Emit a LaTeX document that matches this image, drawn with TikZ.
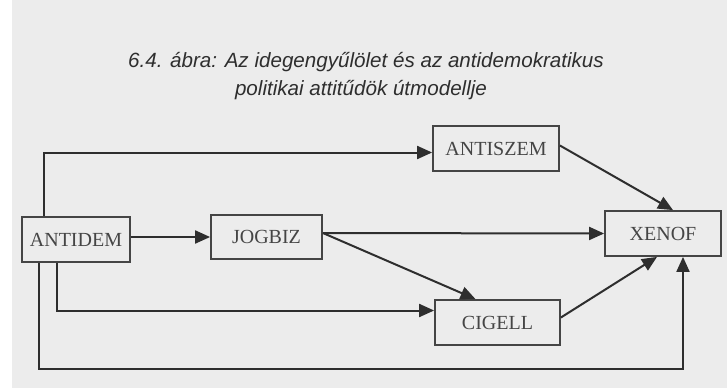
\documentclass[tikz,border=0pt]{standalone}
\usepackage{fontspec}
\setmainfont{Liberation Serif}
\newfontfamily\titlefont{Liberation Sans}
\usetikzlibrary{arrows.meta,calc}
\definecolor{ink}{HTML}{2E2E2E}
\definecolor{boxink}{HTML}{454545}
\definecolor{paper}{HTML}{ECECEC}
\tikzset{
  varbox/.style={draw=boxink, line width=1.8pt, fill=paper, inner sep=0pt, text=boxink,
    font=\fontsize{20}{20}\selectfont},
  conn/.style={draw=ink, line width=2pt, -{Triangle[length=15pt,width=13pt]}},
  ttl/.style={text=ink, anchor=base, font=\titlefont\itshape\fontsize{20.6}{20.6}\selectfont}
}
\begin{document}
\begin{tikzpicture}[x=1pt,y=-1pt]
\fill[paper] (0,0) rectangle (727,388);
\fill[white] (0,0) rectangle (12,388);
\useasboundingbox (0,0) rectangle (727,388);
\node[ttl] (t1) at (366,67) {6.4. ábra: Az idegengyűlölet és az antidemokratikus};
\node[ttl] (t2) at (361,95) {politikai attitűdök útmodellje};
\node[varbox, minimum width=108pt, minimum height=45pt] (antidem) at (76,239.5) {ANTIDEM};
\node[varbox, minimum width=111pt, minimum height=44pt] (jogbiz) at (266.5,237) {JOGBIZ};
\node[varbox, minimum width=126pt, minimum height=45pt] (antiszem) at (496,148.5) {ANTISZEM};
\node[varbox, minimum width=116pt, minimum height=45pt] (xenof) at (663,233.5) {XENOF};
\node[varbox, minimum width=125pt, minimum height=45pt] (cigell) at (497.5,322.5) {CIGELL};
\coordinate (corner) at (683,369);
\draw[conn] ([xshift=23pt]antidem.north west) |- ([yshift=-4pt]antiszem.west);
\draw[conn] (antidem.east |- jogbiz.west) -- (jogbiz.west);
\draw[conn] ([xshift=36pt]antidem.south west) |- ([yshift=12pt]cigell.west);
\draw[conn] ([xshift=18pt]antidem.south west) |- (corner) -- ([xshift=20pt]xenof.south);
\draw[conn] ([yshift=4pt]jogbiz.east) -- (xenof.west);
\draw[conn] ([yshift=4pt]jogbiz.east) -- ([xshift=-22pt]cigell.north);
\draw[conn] ([yshift=3pt]antiszem.east) -- ([xshift=10pt]xenof.north);
\draw[conn] ([yshift=5pt]cigell.east) -- ([xshift=-6pt]xenof.south);
\end{tikzpicture}
\end{document}
